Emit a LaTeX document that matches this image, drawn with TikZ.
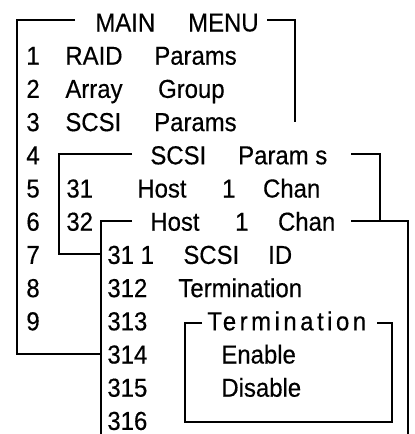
\documentclass[tikz,border=0pt]{standalone}
\usepackage{fontspec}
\setmainfont{Liberation Sans}[FakeStretch=0.92, FakeBold=0.4]

\tikzset{
  frame/.style={line width=0.9pt},
  txt/.style={anchor=base west, inner sep=0pt, font=\fontsize{13}{15}\selectfont},
}

\begin{document}
\begin{tikzpicture}[x=0.5pt, y=-0.5pt]
	  \useasboundingbox (0,0) rectangle (415,434);

	  % menu frames
	  \draw[frame] (75,20) -- (17,20) -- (17,354) -- (101,354);
	  \draw[frame] (267,20) -- (295,20) -- (295,122);
	  \draw[frame] (132,154) -- (59,154) -- (59,254) -- (101,254);
	  \draw[frame] (351,154) -- (380,154) -- (380,221);
	  \draw[frame] (132,221) -- (101,221) -- (101,434);
	  \draw[frame] (351,221) -- (408,221) -- (408,434);
	  \draw[frame] (202,323) -- (185,323) -- (185,422) -- (392,422) -- (392,323) -- (377,323);

	  % main menu
	  \node[txt] (mainmenu) at (95,31.5) {MAIN\hspace{16.5pt}MENU};
	  \foreach \n in {1,...,9}
	  \node[txt] (num\n) at (26,{31.5+33.2*\n}) {\n};
	  \node[txt] (raid) at (65,64.7) {RAID\hspace{15.9pt}Params};
	  \node[txt] (array) at (65,97.9) {Array\hspace{17.8pt}Group};
	  \node[txt] (scsi) at (65,131.1) {SCSI\hspace{16.5pt}Params};

	  % SCSI params
	  \node[txt] (scsimenu) at (150,164.3) {SCSI\hspace{16pt}Param s};
	  \node[txt] (n31) at (66,197.5) {31};
	  \node[txt] (n32) at (66,230.7) {32};
	  \node[txt] (hostone) at (137,197.5) {Host\hspace{17.8pt}1\hspace{13.8pt}Chan};
	  \node[txt] (hostmenu) at (150,230.7) {Host\hspace{17.8pt}1\hspace{14.8pt}Chan};

	  % host 1 chan
	  \node[txt] (n311) at (107,263.9) {31 1};
	  \foreach \n/\i in {312/8, 313/9, 314/10, 315/11, 316/12}
	  \node[txt] (n\n) at (107,{31.5+33.2*\i}) {\n};
	  \node[txt] (scsiid) at (183,263.9) {SCSI\hspace{14.5pt}ID};
	  \node[txt] (term) at (178,297.1) {Termination};

	  % termination
	  \node[txt] (termmenu) at (207,330.3) {\addfontfeatures{LetterSpace=13.5}Terminatio\hspace{1.75pt}n};
	  \node[txt] (enable) at (221,363.5) {Enable};
	  \node[txt] (disable) at (221,396.7) {Disable};
	\end{tikzpicture}
\end{document}
